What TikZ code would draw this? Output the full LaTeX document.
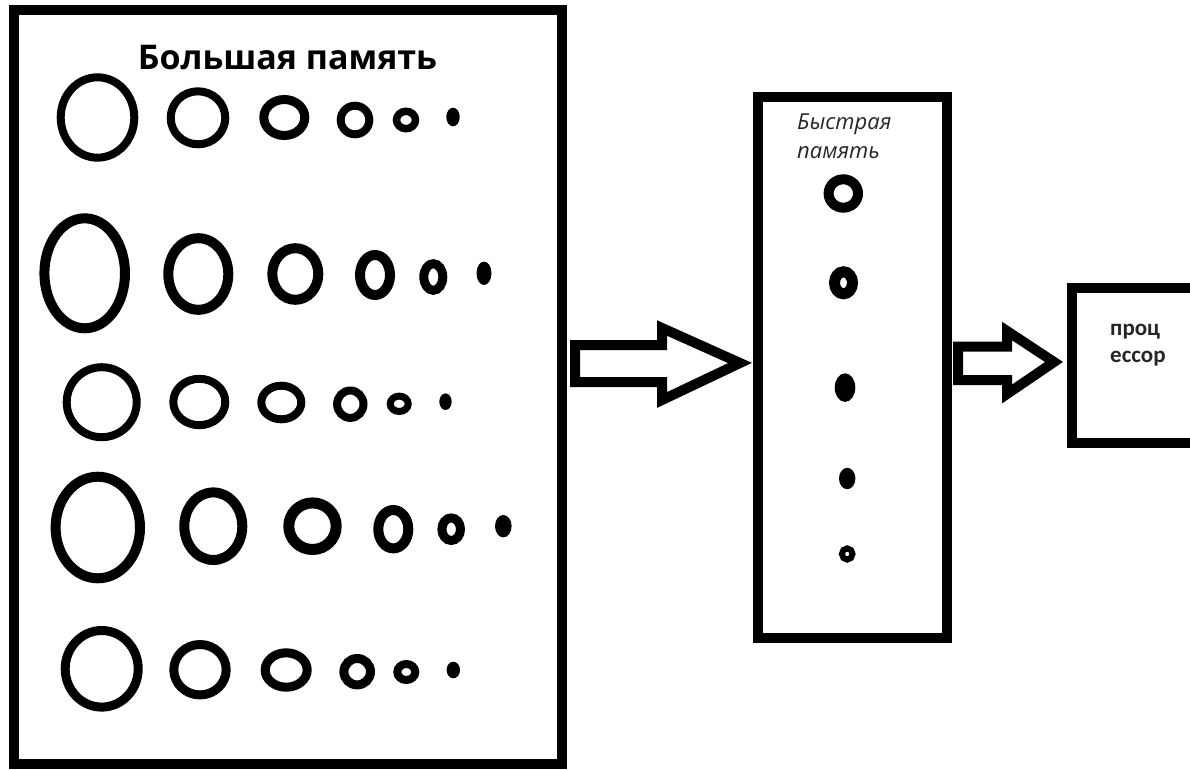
\documentclass[tikz,border=0pt]{standalone}
\usepackage{fontspec}
\newfontfamily\opensans{Open Sans}
\newfontfamily\carlito{Carlito}
\usetikzlibrary{calc}

\begin{document}
\begin{tikzpicture}[x=1pt,y=-1pt,
  frame/.style={draw=black,line width=10pt,inner sep=0pt,fill=none},
  blockarrow/.style={draw=black,line width=10pt,line join=miter},
  ring/.style={draw=black,line width=#1},
  ring/.default=9pt,
  dot/.style={fill=black,draw=none}]

\useasboundingbox (0,0) rectangle (1190,770);
\fill[white] (0,0) rectangle (1190,770);
\clip (0,0) rectangle (1190,770);

% --- boxes ---
\node[frame,minimum width=548pt,minimum height=754pt] (big) at (288,387) {};
\node[frame,minimum width=189pt,minimum height=541pt] (fast) at (852.5,367.5) {};
\node[frame,minimum width=158pt,minimum height=155pt] (cpu) at (1151,365.5) {};

% --- labels (base anchor of a two-line node sits on its last line) ---
\node[anchor=base,inner sep=0pt,font=\opensans\bfseries\fontsize{34}{41}\selectfont]
  (bigtitle) at (287.5,70) {Большая память};
\node[anchor=base west,align=left,inner sep=0pt,text=black!85,
      font=\opensans\itshape\fontsize{22}{29}\selectfont]
  (fasttitle) at (797,159) {Быстрая\\память};
\node[anchor=base west,align=left,inner sep=0pt,text=black!85,
      font=\carlito\bfseries\fontsize{23}{27}\selectfont]
  (cputext) at (1110,362) {проц\\ессор};

% --- block arrows between the boxes ---
\coordinate (tipA) at ([xshift=-13pt,yshift=4.5pt]fast.west);
\coordinate (tailA) at (big.east |- tipA);
\draw[blockarrow] let \p1=(tailA), \p2=(tipA) in
  (\x1+8pt,\y1+18pt) -- (\x2-78pt,\y1+18pt) -- (\x2-78pt,\y1+35pt) -- (\x2,\y2)
  -- (\x2-78pt,\y1-37pt) -- (\x2-78pt,\y1-19pt) -- (\x1+8pt,\y1-19pt) -- cycle;

\coordinate (tipB) at ([xshift=-13pt,yshift=3.5pt]cpu.west);
\coordinate (tailB) at (fast.east |- tipB);
\draw[blockarrow] let \p1=(tailB), \p2=(tipB) in
  (\x1+6pt,\y1+15.5pt) -- (\x2-47pt,\y1+15.5pt) -- (\x2-47pt,\y1+31pt) -- (\x2,\y2)
  -- (\x2-47pt,\y1-32pt) -- (\x2-47pt,\y1-18pt) -- (\x1+6pt,\y1-18pt) -- cycle;

% --- rings in the large memory: x, y, x radius, y radius, stroke ---
\foreach \cx/\cy/\rx/\ry/\lw in {
  97.5/117.5/36.8/40.2/8, 198/117.8/27.3/26.5/8, 284.3/117.5/20.5/18/9,
  355/120/14.3/14.3/8, 406/120/9.5/8.7/7.5,
  84.7/273.3/40.3/55/10, 198.3/274/30/35.8/10, 295.3/274/23/25.8/10,
  375/275/15/20/10, 433.3/277/9.5/13.3/9,
  101.7/402.2/35/35/8, 199.3/402/26/23.2/8, 281.3/402.5/20/16.8/8,
  350.3/404.2/13.2/13.7/8, 399.2/403.8/9/7.7/7,
  97.8/527.5/42.2/50.8/10, 213.3/526.2/29/33.8/10, 312.5/526.2/23.7/23.3/11,
  393.3/529.2/15/19.2/10, 451.2/529.2/9.3/11.3/9,
  101.7/668.8/36.5/38.3/9, 200/669.7/26.2/25.2/9, 286.2/670/21/17.2/9,
  357.2/671.7/13.3/13.2/9, 406.3/672/9/8/8}
  \draw[ring=\lw pt] (\cx,\cy) ellipse [x radius=\rx pt, y radius=\ry pt];

% --- solid dots closing each row ---
\foreach \cx/\cy/\rx/\ry in {
  453/117/6.7/9.3, 484/273.3/7.5/11.7, 445.5/401.7/6.2/8.3,
  503.3/526.2/8.3/11.2, 453.3/670/6.7/8.3}
  \fill[dot] (\cx,\cy) ellipse [x radius=\rx pt, y radius=\ry pt];

% --- contents of the fast memory ---
\draw[ring=10pt] (843.3,193.5) ellipse [x radius=14.7pt, y radius=14.2pt];
\draw[ring=11pt] (843.5,282.8) ellipse [x radius=9pt, y radius=11pt];
\fill[dot] (845,387.6) ellipse [x radius=10.3pt, y radius=14.3pt];
\fill[dot] (847.2,478.5) ellipse [x radius=8.2pt, y radius=10.7pt];
\draw[ring=6pt] (847.2,554) ellipse [x radius=5.3pt, y radius=5.6pt];

\end{tikzpicture}
\end{document}
